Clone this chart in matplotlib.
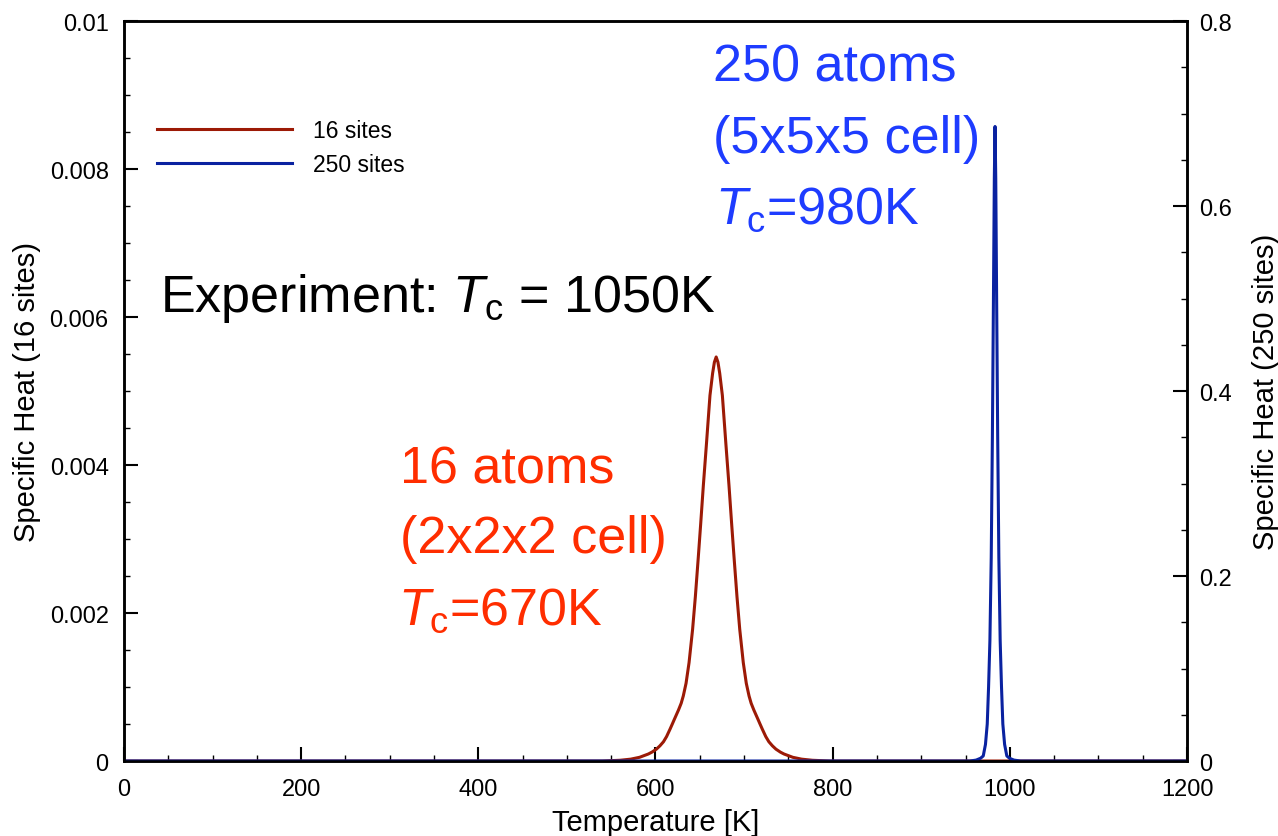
import matplotlib
matplotlib.use("Agg")
import matplotlib.pyplot as plt
from matplotlib.ticker import MultipleLocator, FuncFormatter

plt.rcParams['font.family'] = ['Liberation Sans', 'DejaVu Sans']
plt.rcParams['mathtext.fontset'] = 'custom'
plt.rcParams['mathtext.rm'] = 'Liberation Sans'
plt.rcParams['mathtext.it'] = 'Liberation Sans:italic'

# specific heat of the 16-site cell (left axis)
temp_16 = [0, 540, 560, 572, 582, 592, 596, 601, 605, 609, 612.5, 616.4, 619, 621,
           626, 629, 631.4, 634.5, 637.9, 641.9, 645, 648.3, 651, 654, 657.5,
           661.5, 664.5, 666.5, 668.5, 670.5, 672.5, 675.5, 679.5, 683, 686,
           688.7, 692, 695.1, 699.1, 702.5, 705.6, 708, 711, 716, 718, 720.6,
           724.5, 728, 732, 736, 741, 745, 755, 765, 777, 797, 1200]
cv_16 = [0, 0, 0.00001, 0.000025, 0.00005, 0.000095, 0.00012, 0.00016, 0.000205,
         0.00026, 0.00033, 0.00043, 0.0005, 0.000555, 0.00069, 0.00078, 0.00088,
         0.00105, 0.00133, 0.00178, 0.00222, 0.00275, 0.00320, 0.00372, 0.00428,
         0.00494, 0.00524, 0.00539, 0.00546, 0.00539, 0.00524, 0.00494, 0.00428,
         0.00372, 0.00320, 0.00275, 0.00222, 0.00178, 0.00133, 0.00105, 0.00088,
         0.00078, 0.00069, 0.000555, 0.0005, 0.00043, 0.00033, 0.00026, 0.000205,
         0.00016, 0.00012, 0.000095, 0.00005, 0.000025, 0.00001, 0, 0]

# specific heat of the 250-site cell (right axis)
temp_250 = [0, 955, 962, 967, 970, 972.5, 974.5, 976, 977.5, 979, 980.3, 981.5,
            982.5, 983.3, 984.1, 985.1, 986.3, 987.6, 989.1, 990.6, 992.1, 994.1,
            996.6, 999.6, 1004.6, 1012, 1200]
cv_250 = [0, 0, 0.001, 0.003, 0.0055, 0.018, 0.04, 0.08, 0.13, 0.22, 0.35, 0.50,
          0.63, 0.686, 0.63, 0.50, 0.35, 0.22, 0.13, 0.08, 0.04, 0.018, 0.0055,
          0.003, 0.001, 0, 0]

line_red = '#9c1a06'
line_blue = '#0a22a0'
text_red = '#ff2d00'
text_blue = '#1e3cff'

fig = plt.figure(figsize=(12.78, 8.37), dpi=100)
ax = fig.add_axes([0.097, 0.0896, 0.8318, 0.8841])
ax2 = ax.twinx()

l1, = ax.plot(temp_16, cv_16, color=line_red, lw=2.2, label='16 sites')
l2, = ax2.plot(temp_250, cv_250, color=line_blue, lw=2.2, label='250 sites')

ax.set_xlim(0, 1200)
ax.set_ylim(0, 0.01)
ax2.set_ylim(0, 0.8)

fmt = FuncFormatter(lambda v, _: f'{round(v, 6):g}')
ax.xaxis.set_major_locator(MultipleLocator(200))
ax.xaxis.set_minor_locator(MultipleLocator(50))
ax.yaxis.set_major_locator(MultipleLocator(0.002))
ax.yaxis.set_minor_locator(MultipleLocator(0.0005))
ax.yaxis.set_major_formatter(fmt)
ax2.yaxis.set_major_locator(MultipleLocator(0.2))
ax2.yaxis.set_minor_locator(MultipleLocator(0.05))
ax2.yaxis.set_major_formatter(fmt)

for a in (ax, ax2):
    for s in a.spines.values():
        s.set_linewidth(1.8)
    a.tick_params(which='major', direction='in', length=10, width=1.5, labelsize=17)
    a.tick_params(which='minor', direction='in', length=4.5, width=1)
ax.tick_params(axis='x', which='both', top=False, pad=12)
ax.tick_params(axis='y', which='both', right=False, pad=11)
ax2.tick_params(axis='y', which='both', left=False, right=True, pad=9)

ax.set_xlabel('Temperature [K]', fontsize=21)
ax.set_ylabel('Specific Heat (16 sites)', fontsize=21)
ax2.set_ylabel('Specific Heat (250 sites)', fontsize=21)
ax.xaxis.set_label_coords(0.5, -0.063)
ax.yaxis.set_label_coords(-0.078, 0.5)
ax2.yaxis.set_label_coords(1.061, 0.5)

ax2.legend(handles=[l1, l2], loc='upper left', bbox_to_anchor=(0.031, 0.868),
           frameon=False, fontsize=16.5, handlelength=5.9, handletextpad=0.92,
           borderpad=0, borderaxespad=0, labelspacing=0.48)

big = dict(ha='left', va='baseline', fontsize=37.5)
ax.text(40.6, 0.00608, r'Experiment: $T_{\mathrm{c}}$ = 1050K', color='black', **big)

ax.text(665, 0.00919, '250 atoms', color=text_blue, **big)
ax.text(665, 0.00823, '(5x5x5 cell)', color=text_blue, **big)
ax.text(667, 0.00727, r'$T_{\mathrm{c}}$=980K', color=text_blue, **big)

ax.text(311.6, 0.003757, '16 atoms', color=text_red, **big)
ax.text(311.6, 0.002824, '(2x2x2 cell)', color=text_red, **big)
ax.text(309, 0.001851, r'$T_{\mathrm{c}}$=670K', color=text_red, **big)

fig.savefig('out.png', dpi=100)
